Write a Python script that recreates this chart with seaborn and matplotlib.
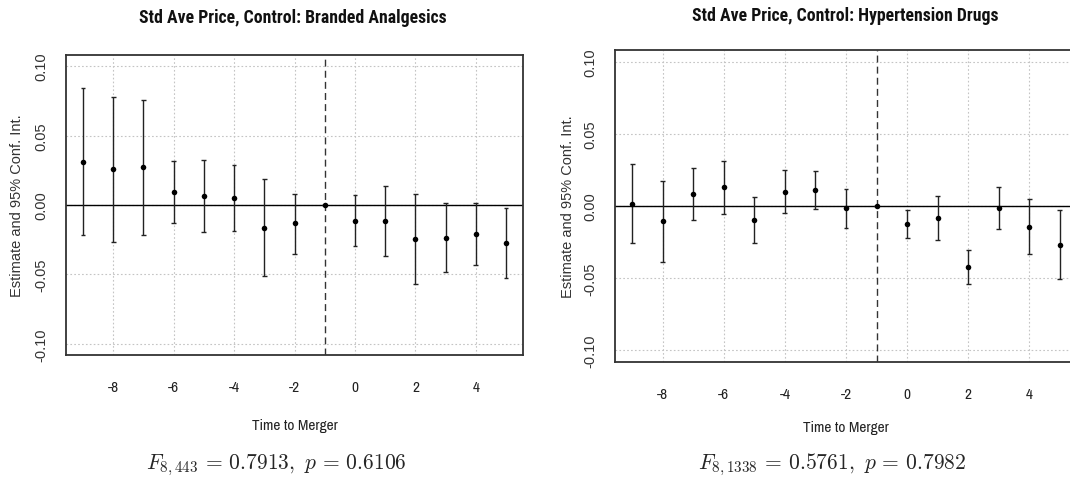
import numpy as np
import pandas as pd
import matplotlib
matplotlib.use("Agg")
import matplotlib.pyplot as plt
import seaborn as sns

# event-study estimates
time_to_merger = [-9, -8, -7, -6, -5, -4, -3, -2, -1, 0, 1, 2, 3, 4, 5]

analg_est = [0.0309, 0.0256, 0.0273, 0.0094, 0.0065, 0.0051, -0.0164, -0.0133, 0.0,
             -0.0114, -0.0114, -0.0246, -0.0239, -0.0208, -0.0275]
analg_hi = [0.084, 0.0775, 0.0754, 0.0316, 0.0326, 0.0287, 0.0184, 0.008, 0.0,
            0.0072, 0.014, 0.008, 0.0014, 0.0014, -0.0024]
analg_lo = [-0.0215, -0.0266, -0.0215, -0.0126, -0.0193, -0.0186, -0.051, -0.0355, 0.0,
            -0.0297, -0.0365, -0.057, -0.048, -0.043, -0.0527]

hyper_est = [0.0014, -0.0104, 0.0081, 0.0132, -0.0097, 0.0097, 0.0113, -0.0014, 0.0,
             -0.0125, -0.0083, -0.0425, -0.0014, -0.0143, -0.0268]
hyper_hi = [0.0289, 0.0173, 0.0263, 0.0314, 0.006, 0.0249, 0.0242, 0.0118, 0.0,
            -0.0025, 0.0067, -0.0307, 0.0134, 0.0048, -0.0025]
hyper_lo = [-0.0254, -0.0386, -0.0099, -0.0058, -0.0254, -0.0051, -0.0021, -0.015, 0.0,
            -0.0222, -0.0233, -0.0543, -0.0157, -0.0333, -0.0508]

titles = ["Std Ave Price, Control: Branded Analgesics",
          "Std Ave Price, Control: Hypertension Drugs"]
f_stats = [r"$F_{8,443}\,=\,0.7913,\ p\,=\,0.6106$",
           r"$F_{8,1338}\,=\,0.5761,\ p\,=\,0.7982$"]
x_ticks = [-8, -6, -4, -2, 0, 2, 4]
y_ticks = [-0.10, -0.05, 0.00, 0.05, 0.10]
merger_line = -1

sns.set_style("white")
plt.rcParams['font.family'] = ['Liberation Sans', 'DejaVu Sans']
plt.rcParams['mathtext.fontset'] = 'cm'
narrow = ['Archivo Narrow', 'Liberation Sans', 'DejaVu Sans']
narrow_bold = ['Roboto Condensed', 'Asap Condensed', 'Liberation Sans', 'DejaVu Sans']

fig = plt.figure(figsize=(10.7, 4.81), dpi=100)

# axes boxes (fig fractions), right panel runs off the edge like the source
boxes = [[66 / 1070, 125 / 481, 457 / 1070, 300 / 481],
         [615 / 1070, 118 / 481, 462 / 1070, 312 / 481]]
title_pos = [(293 / 1070, 1 - 18 / 481), (845 / 1070, 1 - 16 / 481)]
xlab_pos = [(295 / 1070, 1 - 426 / 481), (846 / 1070, 1 - 428 / 481)]
ylab_x = [17 / 1070, 568 / 1070]
fstat_pos = [(276 / 1070, 1 - 465 / 481), (832 / 1070, 1 - 465 / 481)]

panels = [(analg_est, analg_lo, analg_hi), (hyper_est, hyper_lo, hyper_hi)]

for i, (est, lo, hi) in enumerate(panels):
    ax = fig.add_axes(boxes[i])
    df = pd.DataFrame({"t": time_to_merger, "est": est, "lo": lo, "hi": hi})

    ax.vlines(df["t"], df["lo"], df["hi"], color="#222222", lw=1.0, zorder=3)
    ax.hlines(df["lo"], df["t"] - 0.08, df["t"] + 0.08, color="#222222", lw=1.0, zorder=3)
    ax.hlines(df["hi"], df["t"] - 0.08, df["t"] + 0.08, color="#222222", lw=1.0, zorder=3)
    sns.scatterplot(data=df, x="t", y="est", ax=ax, color="black", s=16,
                    edgecolor="black", linewidth=0, zorder=4, legend=False)

    ax.axhline(0, color="black", lw=1.0, zorder=2)
    ax.axvline(merger_line, color="#333333", lw=1.0, ls=(0, (5, 3)), zorder=2)

    ax.set_xlim(-9.56, 5.56)
    ax.set_ylim(-0.108, 0.108)
    ax.set_xticks(x_ticks)
    ax.set_yticks(y_ticks)
    ax.set_xticklabels([str(t) for t in x_ticks], family=narrow, fontsize=11)
    ax.set_yticklabels([f"{v:.2f}" for v in y_ticks], rotation=90, va="center",
                       fontsize=10.5, color="#333333")
    ax.tick_params(axis="x", length=8, width=1, color="#333333", pad=10, labelcolor="#222222")
    ax.tick_params(axis="y", length=7, width=1, color="#333333", pad=6)
    ax.grid(True, color="#c4c4c4", ls=(0, (1.5, 2)), lw=0.8)
    ax.set_axisbelow(True)
    ax.set_xlabel("")
    ax.set_ylabel("")
    for sp in ax.spines.values():
        sp.set_visible(True)
        sp.set_color("#333333")
        sp.set_linewidth(1.3)

    fig.text(*title_pos[i], titles[i], ha="center", va="center", fontsize=12.8,
             fontweight="bold", family=narrow_bold, color="#111111")
    fig.text(*xlab_pos[i], "Time to Merger", ha="center", va="center",
             fontsize=11, family=narrow, color="#222222")
    b = boxes[i]
    fig.text(ylab_x[i], b[1] + b[3] / 2, "Estimate and 95% Conf. Int.", rotation=90,
             ha="center", va="center", fontsize=10.5, color="#333333")
    fig.text(*fstat_pos[i], f_stats[i], ha="center", va="center", fontsize=15.5)

fig.savefig("out.png", dpi=100)
